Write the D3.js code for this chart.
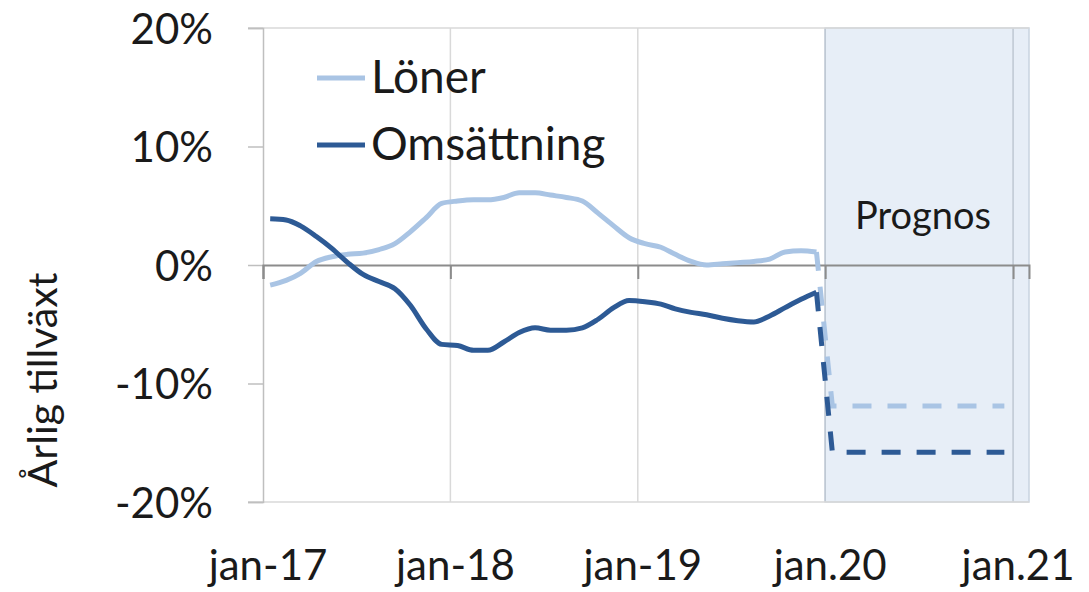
<!DOCTYPE html>
<html>
<head>
<meta charset="utf-8">
<script src="https://cdn.jsdelivr.net/npm/d3@7"></script>
<style>
  body { margin: 0; background: #fff; }
  svg text { font-family: Lato, "Open Sans", sans-serif; fill: #1a1a1a; }
</style>
</head>
<body>
<div id="chart"></div>
<script>
// monthly annual growth, jan 2017 - dec 2019 (actual), jan 2020 - dec 2020 (forecast)
const months = d3.range(36).map(i => new Date(2017, i, 15));
const lonerValues = [
  -1.7, -1.3, -0.7, 0.3, 0.7, 0.9, 1.0, 1.3, 1.8, 2.8, 4.0, 5.2,
  5.4, 5.5, 5.5, 5.7, 6.1, 6.1, 5.9, 5.7, 5.4, 4.4, 3.3, 2.3,
  1.8, 1.5, 0.9, 0.3, 0.0, 0.1, 0.2, 0.3, 0.5, 1.1, 1.2, 1.1
];
const omsValues = [
  3.9, 3.8, 3.3, 2.4, 1.4, 0.2, -0.8, -1.4, -2.0, -3.4, -5.4, -6.7,
  -6.8, -7.2, -7.2, -6.5, -5.7, -5.3, -5.5, -5.5, -5.3, -4.6, -3.6, -3.0,
  -3.1, -3.3, -3.7, -4.0, -4.2, -4.5, -4.7, -4.8, -4.3, -3.6, -2.9, -2.3
];
const forecastMonths = d3.range(35, 48).map(i => new Date(2017, i, 15));
const lonerForecast = [1.1, -11.9, -11.9, -11.9, -11.9, -11.9, -11.9, -11.9, -11.9, -11.9, -11.9, -11.9, -11.9];
const omsForecast = [-2.3, -15.8, -15.8, -15.8, -15.8, -15.8, -15.8, -15.8, -15.8, -15.8, -15.8, -15.8, -15.8];

const tickDates = [new Date(2017, 0, 1), new Date(2018, 0, 1), new Date(2019, 0, 1), new Date(2020, 0, 1), new Date(2021, 0, 1)];
const tickLabels = ['jan-17', 'jan-18', 'jan-19', 'jan.20', 'jan.21'];
const yTicks = [-20, -10, 0, 10, 20];
const seriesNames = ['Löner', 'Omsättning'];
const colors = ['#a9c4e4', '#2d5a95'];

const width = 1089, height = 592;
const m = { top: 28, right: 60, bottom: 90, left: 263 };

const svg = d3.select('#chart').append('svg')
  .attr('width', width)
  .attr('height', height);

const x = d3.scaleTime()
  .domain([new Date(2017, 0, 1), new Date(2021, 1, 1)])
  .range([m.left, width - m.right]);
const y = d3.scaleLinear()
  .domain([-20, 20])
  .range([height - m.bottom, m.top]);

// forecast shading
svg.append('rect')
  .attr('x', x(new Date(2020, 0, 1)))
  .attr('y', y(20))
  .attr('width', x.range()[1] - x(new Date(2020, 0, 1)))
  .attr('height', y(-20) - y(20))
  .attr('fill', '#e7eef7')
  .attr('stroke', '#c9d3e0')
  .attr('stroke-width', 1.5);

// vertical gridlines
svg.append('g').selectAll('line')
  .data(tickDates.slice(1))
  .join('line')
  .attr('x1', d => x(d)).attr('x2', d => x(d))
  .attr('y1', y(20)).attr('y2', y(-20))
  .attr('stroke', (d, i) => i >= 2 ? '#bfc8d3' : '#d9d9d9')
  .attr('stroke-width', 1.5);

// top and bottom border lines
svg.append('g').selectAll('line')
  .data([20, -20])
  .join('line')
  .attr('x1', m.left - 15).attr('x2', x.range()[1])
  .attr('y1', d => y(d)).attr('y2', d => y(d))
  .attr('stroke', '#d9d9d9')
  .attr('stroke-width', 1.5);

// y axis
const yAxis = svg.append('g')
  .attr('transform', 'translate(' + m.left + ',0)')
  .call(d3.axisLeft(y).tickValues(yTicks).tickSize(15).tickPadding(35).tickFormat(d => d + '%'));
yAxis.select('.domain').attr('stroke', '#bfbfbf').attr('stroke-width', 1.5);
yAxis.selectAll('.tick line').attr('stroke', '#bfbfbf').attr('stroke-width', 1.5);
yAxis.selectAll('.tick text')
  .style('font-size', '42px')
  .attr('dy', '0.36em');

// x axis along 0%
const xAxis = svg.append('g')
  .attr('transform', 'translate(0,' + y(0) + ')')
  .call(d3.axisBottom(x).tickValues(tickDates).tickSize(14).tickFormat(''));
xAxis.select('.domain').attr('stroke', '#8c8c8c').attr('stroke-width', 2);
xAxis.selectAll('.tick line').attr('stroke', '#8c8c8c').attr('stroke-width', 2);

// x tick labels at the bottom
svg.append('g').selectAll('text')
  .data(tickDates)
  .join('text')
  .attr('x', d => x(d) + 5)
  .attr('y', 580)
  .attr('text-anchor', 'middle')
  .style('font-size', '42px')
  .text((d, i) => tickLabels[i]);

// y axis title
svg.append('text')
  .attr('transform', 'translate(57,380) rotate(-90)')
  .attr('text-anchor', 'middle')
  .style('font-size', '41px')
  .text('Årlig tillväxt');

// Prognos label
svg.append('text')
  .attr('x', 923)
  .attr('y', 229)
  .attr('text-anchor', 'middle')
  .style('font-size', '38px')
  .text('Prognos');

const line = d3.line()
  .curve(d3.curveMonotoneX)
  .x(d => x(d[0]))
  .y(d => y(d[1]));
const straight = d3.line()
  .x(d => x(d[0]))
  .y(d => y(d[1]));

const actual = [lonerValues, omsValues];
const forecast = [lonerForecast, omsForecast];

actual.forEach(function(vals, i) {
  svg.append('path')
    .datum(months.map((d, j) => [d, vals[j]]))
    .attr('fill', 'none')
    .attr('stroke', colors[i])
    .attr('stroke-width', 5)
    .attr('stroke-linejoin', 'round')
    .attr('d', line);
});

forecast.forEach(function(vals, i) {
  svg.append('path')
    .datum(forecastMonths.map((d, j) => [d, vals[j]]))
    .attr('fill', 'none')
    .attr('stroke', colors[i])
    .attr('stroke-width', 5)
    .attr('stroke-dasharray', '19,16')
    .attr('d', straight);
});

// legend
const legend = svg.append('g').selectAll('g')
  .data(seriesNames)
  .join('g')
  .attr('transform', (d, i) => 'translate(317,' + (78 + i * 67) + ')');
legend.append('line')
  .attr('x1', 0).attr('x2', 48)
  .attr('stroke', (d, i) => colors[i])
  .attr('stroke-width', 5);
legend.append('text')
  .attr('x', 54)
  .attr('dy', '0.33em')
  .style('font-size', '46px')
  .text(d => d);
</script>
</body>
</html>
